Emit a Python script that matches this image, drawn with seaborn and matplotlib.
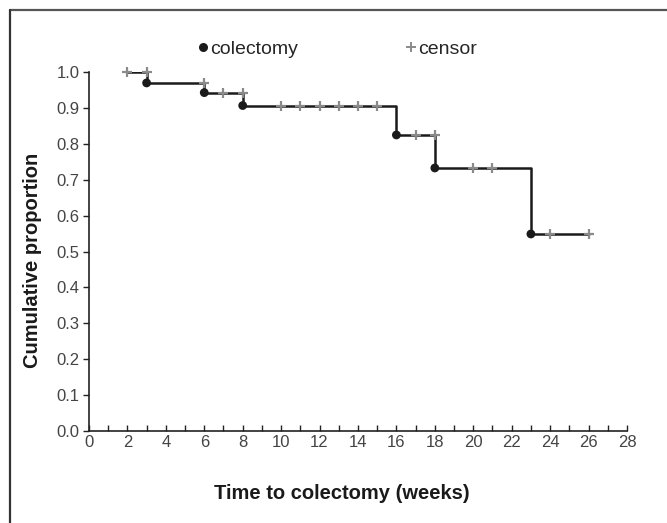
import numpy as np
import pandas as pd
import matplotlib
matplotlib.use('Agg')
import matplotlib.pyplot as plt
from matplotlib.lines import Line2D
import seaborn as sns

# ── DATA ──────────────────────────────────────────────────────────────────────
event_times = [3, 6, 8, 16, 18, 23]
event_surv = [0.970, 0.943, 0.907, 0.825, 0.733, 0.549]

censor_times = [2, 3, 6, 7, 8, 10, 11, 12, 13, 14, 15, 17, 18, 20, 21, 24, 26]
censor_surv = [1.0, 1.0, 0.970, 0.943, 0.943,
               0.907, 0.907, 0.907, 0.907, 0.907, 0.907,
               0.825, 0.825, 0.733, 0.733, 0.549, 0.549]

start_time, end_time = 2, 26
x_ticks = list(range(0, 29, 2))
y_ticks = [0.0, 0.1, 0.2, 0.3, 0.4, 0.5, 0.6, 0.7, 0.8, 0.9, 1.0]

# step curve from the event list
steps = pd.DataFrame({
    'time': [start_time] + event_times + [end_time],
    'surv': [1.0] + event_surv + [event_surv[-1]],
})
events = pd.DataFrame({'time': event_times, 'surv': event_surv})
censors = pd.DataFrame({'time': censor_times, 'surv': censor_surv})

# ── PLOT ──────────────────────────────────────────────────────────────────────
sns.set_style('ticks')
plt.rcParams['font.family'] = ['Liberation Sans', 'DejaVu Sans']

fig = plt.figure(figsize=(6.67, 5.23), dpi=100)
ax = fig.add_axes([0.1334, 0.176, 0.8066, 0.686])

sns.lineplot(data=steps, x='time', y='surv', ax=ax, estimator=None, sort=False,
             drawstyle='steps-post', color='#1a1a1a', linewidth=1.8, zorder=2)
sns.scatterplot(data=censors, x='time', y='surv', ax=ax, marker='+', s=55,
                color='#8a8a8a', linewidth=1.6, zorder=3, clip_on=False)
sns.scatterplot(data=events, x='time', y='surv', ax=ax, marker='o', s=40,
                color='#1a1a1a', edgecolor='none', zorder=4, clip_on=False)

ax.set_xlim(0, 28)
ax.set_ylim(0, 1.0)
ax.set_xticks(x_ticks)
ax.set_xticks(range(1, 28, 2), minor=True)
ax.set_yticks(y_ticks)
ax.set_yticklabels([f'{v:.1f}' for v in y_ticks])

sns.despine(ax=ax)
for side in ['left', 'bottom']:
    ax.spines[side].set_color('#222222')
    ax.spines[side].set_linewidth(1.2)
ax.tick_params(axis='x', which='both', direction='in', length=4, width=1,
               colors='#222222', labelcolor='#444444', labelsize=12, pad=3)
ax.tick_params(axis='y', direction='out', length=4, width=1,
               colors='#222222', labelcolor='#444444', labelsize=12, pad=3)

ax.set_xlabel('Time to colectomy (weeks)', fontsize=14.5, fontweight='bold',
              color='#1a1a1a')
ax.set_ylabel('Cumulative proportion', fontsize=14.5, fontweight='bold',
              color='#1a1a1a')
ax.xaxis.set_label_coords(0.47, -0.148)
ax.yaxis.set_label_coords(-0.087, 0.476)

# legend across the top
handles = [
    Line2D([], [], linestyle='none', marker='o', markersize=6.5,
           color='#1a1a1a', markeredgecolor='none', label='colectomy'),
    Line2D([], [], linestyle='none', marker='+', markersize=7,
           color='#8a8a8a', markeredgewidth=1.4, label='censor'),
]
fig.legend(handles=handles, loc='center', bbox_to_anchor=(0.506, 0.906),
           ncol=2, frameon=False, fontsize=14, handlelength=0.5,
           handletextpad=0.1, columnspacing=5.6)

# partial frame around the figure (top and left only)
fig.add_artist(Line2D([0.015, 1.0], [0.981, 0.981], transform=fig.transFigure,
                      color='#555555', linewidth=1.6))
fig.add_artist(Line2D([0.015, 0.015], [0.0, 0.981], transform=fig.transFigure,
                      color='#333333', linewidth=1.6))

fig.savefig('out.png', dpi=100)
